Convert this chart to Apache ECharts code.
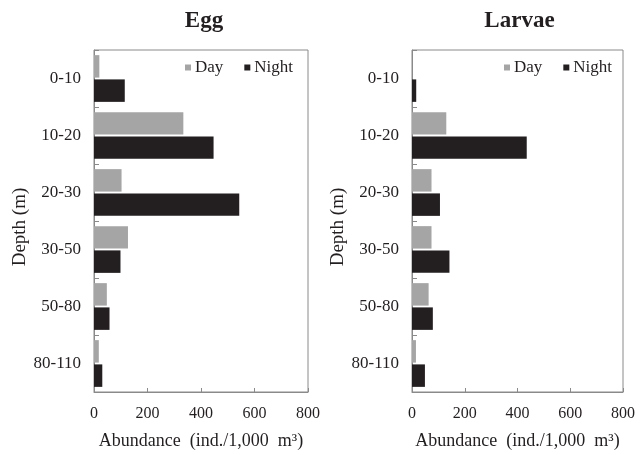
<!DOCTYPE html>
<html>
<head>
<meta charset="utf-8">
<script src="https://cdn.jsdelivr.net/npm/echarts@6/dist/echarts.min.js"></script>
<style>
html,body{margin:0;padding:0;background:#fff;}
#c{width:644px;height:455px;}
</style>
</head>
<body>
<div id="c"></div>
<script>
var depths = ['0-10', '10-20', '20-30', '30-50', '50-80', '80-110'];
var eggDay = [20, 334, 103, 127, 48, 18];
var eggNight = [115, 447, 543, 99, 58, 31];
var larvaeDay = [0, 130, 74, 74, 63, 15];
var larvaeNight = [16, 435, 106, 142, 79, 49];
var xTicks = [0, 200, 400, 600, 800];
var panelTitles = ['Egg', 'Larvae'];

var FONT = '"Liberation Serif", "Times New Roman", serif';
var DAY = '#a5a5a5';
var NIGHT = '#231f20';
var BORDER = '#8a8a8a';

var grids = [
  {left: 94, top: 50, width: 214, height: 344},
  {left: 412, top: 50, width: 211, height: 344}
];
var titleLefts = [199, 514.5];
var nameGaps = [62, 60.5];

function xAxis(i) {
  return {
    type: 'value', gridIndex: i, min: xTicks[0], max: xTicks[xTicks.length - 1], interval: 200,
    name: 'Abundance  (ind./1,000  m\u00B3)', nameLocation: 'middle', nameGap: 40,
    nameTextStyle: {fontFamily: FONT, fontSize: 18, color: '#231f20'},
    axisLine: {show: true, lineStyle: {color: BORDER, width: 1}},
    axisTick: {show: true, inside: true, length: 4, lineStyle: {color: BORDER}},
    axisLabel: {fontFamily: FONT, fontSize: 16, color: '#231f20', margin: 14},
    splitLine: {show: false}
  };
}
function yAxis(i) {
  return {
    type: 'category', gridIndex: i, data: depths, inverse: true,
    name: 'Depth (m)', nameLocation: 'middle', nameGap: nameGaps[i], nameRotate: 90,
    nameTextStyle: {fontFamily: FONT, fontSize: 19, color: '#231f20', padding: [0, 12, 0, 0]},
    axisLine: {show: true, lineStyle: {color: BORDER, width: 1}},
    axisTick: {show: true, inside: true, length: 5, lineStyle: {color: BORDER}},
    axisLabel: {fontFamily: FONT, fontSize: 17, color: '#231f20', margin: 13},
    splitLine: {show: false}
  };
}
function bar(name, data, i, color) {
  return {
    name: name, type: 'bar', xAxisIndex: i, yAxisIndex: i, data: data,
    barCategoryGap: '18%', barGap: '8%',
    itemStyle: {color: color}, animation: false
  };
}

var chart = echarts.init(document.getElementById('c'), null, {renderer: 'canvas'});
chart.setOption({
  backgroundColor: '#fff',
  animation: false,
  title: panelTitles.map(function (t, i) {
    return {text: t, left: titleLefts[i], textAlign: 'center', top: 5,
      textStyle: {fontFamily: FONT, fontSize: 23, fontWeight: 'bold', color: '#231f20'}};
  }),
  grid: grids.map(function (g) {
    return Object.assign({show: true, borderColor: BORDER, borderWidth: 1, backgroundColor: 'transparent'}, g);
  }),
  legend: [
    {left: 180, top: 54},
    {left: 499, top: 54}
  ].map(function (p) {
    return Object.assign({
      data: ['Day', 'Night'], orient: 'horizontal', itemWidth: 6, itemHeight: 6, itemGap: 21,
      icon: 'rect', textStyle: {fontFamily: FONT, fontSize: 17, color: '#231f20', padding: [0, 0, 0, -1]},
      selectedMode: false
    }, p);
  }),
  xAxis: [xAxis(0), xAxis(1)],
  yAxis: [yAxis(0), yAxis(1)],
  series: [
    bar('Day', eggDay, 0, DAY),
    bar('Night', eggNight, 0, NIGHT),
    bar('Day', larvaeDay, 1, DAY),
    bar('Night', larvaeNight, 1, NIGHT)
  ]
});
</script>
</body>
</html>
